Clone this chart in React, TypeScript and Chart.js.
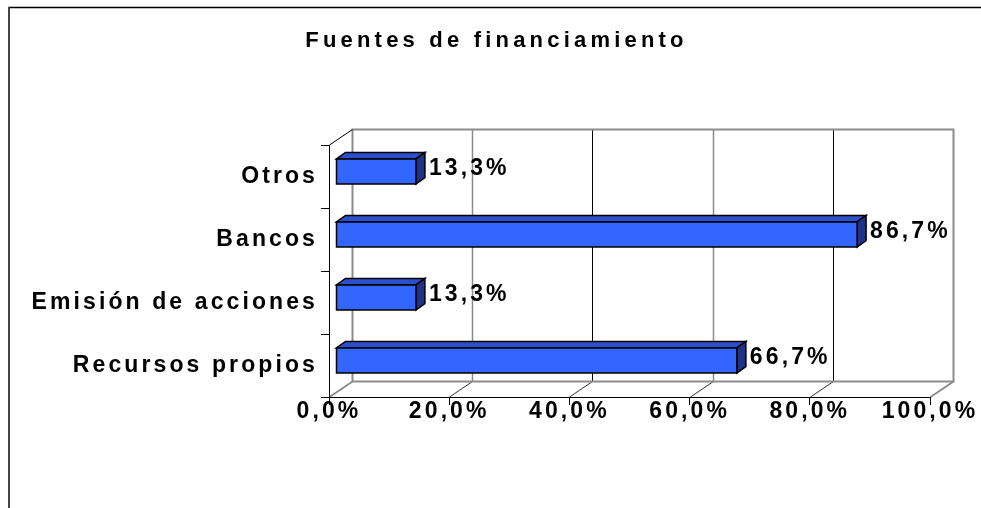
import React, { useEffect, useRef } from "react";
import { Chart, registerables } from "chart.js";

Chart.register(...registerables);

const TITLE = "Fuentes de financiamiento";
const categories = ["Recursos propios", "Emisión de acciones", "Bancos", "Otros"];
const values = [66.7, 13.3, 86.7, 13.3];
const xTicks = [0, 20, 40, 60, 80, 100];

const FONT = '"Liberation Sans", Arial, Helvetica, sans-serif';
const fmt = (v: number) => v.toFixed(1).replace(".", ",") + "%";

// 3D look (pixel offsets)
const WALL = { x: 23, y: -16 };
const BAR_OFF = { x: 7, y: -5 };
const BAR_DEPTH = { x: 9, y: -6.5 };
const FRONT = "#3366FF";
const TOP = "#2C50CC";
const SIDE = "#1E3388";
const AXIS_SPACING = "3.1px";
const TITLE_SPACING = "4.2px";

const line = (ctx: CanvasRenderingContext2D, x1: number, y1: number, x2: number, y2: number) => {
  ctx.beginPath();
  ctx.moveTo(x1, y1);
  ctx.lineTo(x2, y2);
  ctx.stroke();
};

const spacingPlugin = {
  id: "spacing",
  beforeUpdate(chart: any) {
    chart.ctx.letterSpacing = AXIS_SPACING;
  },
  beforeLayout(chart: any) {
    chart.ctx.letterSpacing = AXIS_SPACING;
  },
  beforeDraw(chart: any) {
    chart.ctx.letterSpacing = AXIS_SPACING;
  },
};

const wallPlugin = {
  id: "wall3d",
  beforeDraw(chart: any) {
    const ctx: CanvasRenderingContext2D = chart.ctx;
    const xs = chart.scales.x;
    const a = chart.chartArea;
    ctx.save();
    // outer frame
    ctx.strokeStyle = "#000";
    ctx.lineWidth = 1.5;
    line(ctx, 8, 7.5, chart.width, 7.5);
    ctx.strokeStyle = "#444";
    ctx.lineWidth = 2;
    line(ctx, 9, 7, 9, chart.height);

    // title
    ctx.letterSpacing = TITLE_SPACING;
    ctx.fillStyle = "#000";
    ctx.font = `bold 22px ${FONT}`;
    ctx.textAlign = "center";
    ctx.textBaseline = "middle";
    ctx.fillText(TITLE, chart.width / 2 + 6, 41);
    ctx.letterSpacing = AXIS_SPACING;

    const x0 = xs.getPixelForValue(xTicks[0]);
    const x1 = xs.getPixelForValue(xTicks[xTicks.length - 1]);
    const bl = Math.round(x0 + WALL.x) + 0.5;
    const br = Math.round(x1 + WALL.x) + 0.5;
    const bt = Math.round(a.top + WALL.y) + 0.5;
    const bb = Math.round(a.bottom + WALL.y) + 0.5;

    // inner gridlines on back wall + floor diagonals
    xTicks.slice(1, -1).forEach((v, i) => {
      const fx = xs.getPixelForValue(v);
      const px = Math.round(fx + WALL.x) + 0.5;
      ctx.strokeStyle = i % 2 === 0 ? "#8a8a8a" : "#000";
      ctx.lineWidth = i % 2 === 0 ? 1.5 : 1;
      line(ctx, px, bt, px, bb);
      ctx.strokeStyle = "#333";
      ctx.lineWidth = 1;
      line(ctx, Math.round(fx) + 0.5, a.bottom, px, bb);
    });

    // wall edges
    ctx.strokeStyle = "#8c8c8c";
    ctx.lineWidth = 2;
    ctx.strokeRect(bl, bt, br - bl, bb - bt);
    line(ctx, Math.round(x0) + 0.5, a.bottom, bl, bb);
    line(ctx, Math.round(x1) + 0.5, a.bottom, br, bb);

    // top-left diagonal
    ctx.strokeStyle = "#000";
    ctx.lineWidth = 1;
    line(ctx, Math.round(a.left) + 0.5, a.top, bl, bt);
    ctx.restore();
    ctx.letterSpacing = AXIS_SPACING;
  },
  afterDatasetsDraw(chart: any) {
    const ctx: CanvasRenderingContext2D = chart.ctx;
    const meta = chart.getDatasetMeta(0);
    ctx.save();
    ctx.lineWidth = 1.5;
    ctx.strokeStyle = "#000";
    ctx.lineJoin = "miter";
    meta.data.forEach((el: any, i: number) => {
      const { x, y, base, height } = el.getProps(["x", "y", "base", "height"], true);
      const l = base + BAR_OFF.x;
      const r = x + BAR_OFF.x;
      const t = y - height / 2 + BAR_OFF.y;
      const b = y + height / 2 + BAR_OFF.y;
      const dx = BAR_DEPTH.x;
      const dy = BAR_DEPTH.y;
      // top face
      ctx.fillStyle = TOP;
      ctx.beginPath();
      ctx.moveTo(l, t);
      ctx.lineTo(l + dx, t + dy);
      ctx.lineTo(r + dx, t + dy);
      ctx.lineTo(r, t);
      ctx.closePath();
      ctx.fill();
      ctx.stroke();
      // side face
      ctx.fillStyle = SIDE;
      ctx.beginPath();
      ctx.moveTo(r, t);
      ctx.lineTo(r + dx, t + dy);
      ctx.lineTo(r + dx, b + dy);
      ctx.lineTo(r, b);
      ctx.closePath();
      ctx.fill();
      ctx.stroke();
      // front face
      ctx.fillStyle = FRONT;
      ctx.beginPath();
      ctx.rect(l, t, r - l, b - t);
      ctx.fill();
      ctx.stroke();
      // label
      ctx.letterSpacing = AXIS_SPACING;
      ctx.fillStyle = "#000";
      ctx.font = `bold 23px ${FONT}`;
      ctx.textAlign = "left";
      ctx.textBaseline = "middle";
      ctx.fillText(fmt(values[i]), r + dx + 4, y + BAR_OFF.y - 3);
    });
    ctx.restore();
  },
};

export default function App() {
  const ref = useRef<HTMLCanvasElement | null>(null);

  useEffect(() => {
    if (!ref.current) return;
    const font = { family: FONT, size: 23, weight: "bold" as const };
    const chart = new Chart(ref.current, {
      type: "bar",
      data: {
        labels: categories,
        datasets: [
          {
            data: values,
            backgroundColor: "rgba(0,0,0,0)",
            borderWidth: 0,
            barPercentage: 0.4,
            categoryPercentage: 1,
          },
        ],
      },
      options: {
        indexAxis: "y",
        responsive: false,
        animation: false,
        events: [],
        layout: { padding: { top: 145, right: 51, left: 0, bottom: 0 } },
        plugins: {
          legend: { display: false },
          title: { display: false },
          tooltip: { enabled: false },
        },
        scales: {
          x: {
            type: "linear",
            min: xTicks[0],
            max: xTicks[xTicks.length - 1],
            afterBuildTicks: (scale: any) => {
              scale.ticks = xTicks.map((v) => ({ value: v }));
            },
            ticks: {
              callback: (v: any) => fmt(Number(v)),
              font,
              color: "#000",
              padding: -7,
              maxRotation: 0,
              autoSkip: false,
            },
            grid: { drawOnChartArea: false, drawTicks: true, tickLength: 8, color: "#000", lineWidth: 1 },
            border: { display: true, color: "#000", width: 1 },
            afterFit: (s: any) => {
              s.height = 111;
            },
          },
          y: {
            type: "category",
            reverse: true,
            ticks: { font, color: "#000", padding: 3, autoSkip: false },
            grid: { drawOnChartArea: false, drawTicks: true, tickLength: 8, color: "#000", lineWidth: 1, offset: true },
            border: { display: true, color: "#000", width: 1 },
            afterFit: (s: any) => {
              s.width = 329;
            },
          },
        },
      } as any,
      plugins: [spacingPlugin, wallPlugin],
    });
    return () => chart.destroy();
  }, []);

  return (
    <div style={{ position: "fixed", left: 0, top: 0, width: 981, height: 508, background: "#fff" }}>
      <canvas ref={ref} width={981} height={508} style={{ display: "block" }} />
    </div>
  );
}
